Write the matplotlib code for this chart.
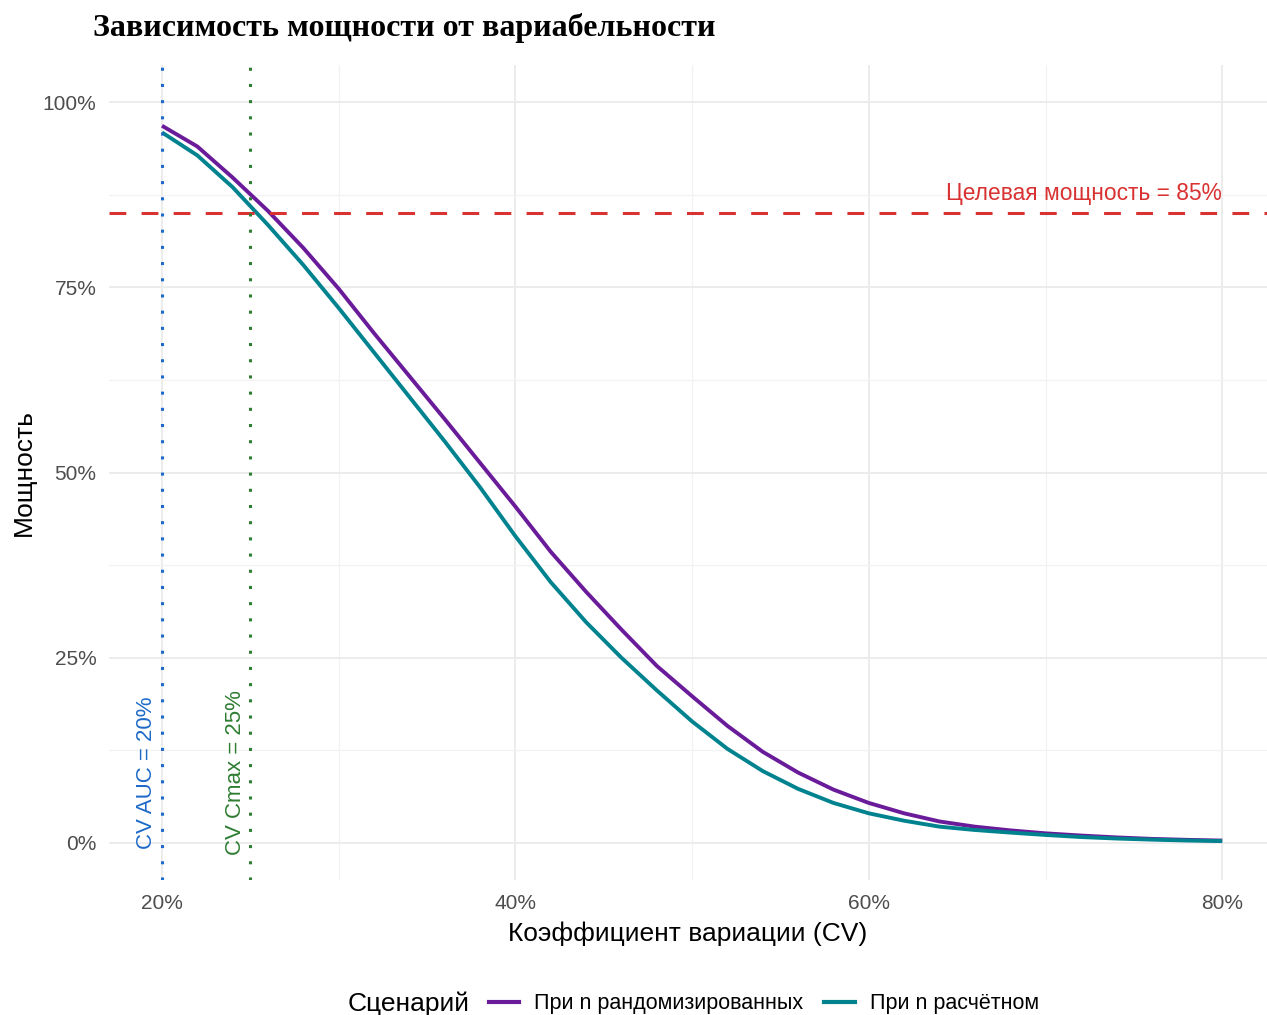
import matplotlib
matplotlib.use("Agg")
import matplotlib.pyplot as plt
from matplotlib.lines import Line2D
from matplotlib.offsetbox import HPacker

plt.rcParams["font.family"] = ["Liberation Sans", "DejaVu Sans"]

cv = [20, 22, 24, 26, 28, 30, 32, 34, 36, 38, 40, 42, 44, 46, 48, 50, 52, 54, 56, 58,
      60, 62, 64, 66, 68, 70, 72, 74, 76, 78, 80]
power_rand = [96.8, 94.0, 89.8, 85.3, 80.3, 74.8, 68.8, 63.0, 57.2, 51.3, 45.4, 39.3, 33.9, 28.8,
              23.9, 19.8, 15.8, 12.3, 9.5, 7.2, 5.4, 4.0, 2.9, 2.2, 1.7, 1.3, 1.0, 0.75, 0.55, 0.42, 0.32]
power_calc = [95.9, 92.8, 88.5, 83.4, 78.0, 72.2, 66.2, 60.2, 54.2, 48.0, 41.4, 35.2, 29.8, 25.0,
              20.6, 16.4, 12.7, 9.7, 7.3, 5.4, 4.0, 3.0, 2.2, 1.75, 1.4, 1.08, 0.8, 0.6, 0.45, 0.33, 0.25]
series_names = ["При n рандомизированных", "При n расчётном"]
target_power = 85
cv_auc = 20
cv_cmax = 25

c_rand = "#6A1B9A"
c_calc = "#00838F"

fig = plt.figure(figsize=(12.67, 10.15), dpi=100)
ax = fig.add_axes([109/1267, 1-880/1015, 1-109/1267, (880-65)/1015])

ax.set_xlim(17, 20 + (1267-162)/17.67)
ax.set_ylim(-5, 105)

for s in ax.spines.values():
    s.set_visible(False)

ax.set_xticks([20, 40, 60, 80])
ax.set_xticklabels(["20%", "40%", "60%", "80%"])
ax.set_xticks([30, 50, 70], minor=True)
ax.set_yticks([0, 25, 50, 75, 100])
ax.set_yticklabels(["0%", "25%", "50%", "75%", "100%"])
ax.set_yticks([12.5, 37.5, 62.5, 87.5], minor=True)
ax.grid(which="major", color="#EBEBEB", linewidth=1.3, zorder=0)
ax.grid(which="minor", color="#F2F2F2", linewidth=0.9, zorder=0)
ax.tick_params(which="both", length=0, labelsize=15, labelcolor="#4D4D4D")
ax.tick_params(axis="x", pad=10)
ax.tick_params(axis="y", pad=9)

ax.plot(cv, power_rand, color=c_rand, lw=2.8, zorder=3, solid_capstyle="butt")
ax.plot(cv, power_calc, color=c_calc, lw=2.8, zorder=3, solid_capstyle="butt")

ax.axhline(target_power, color="#D93232", lw=2.2, linestyle=(0, (5.5, 5)), zorder=4)
ax.axvline(cv_auc, color="#1E6AC8", lw=2.2, linestyle=(0, (1, 4.3)), zorder=4)
ax.axvline(cv_cmax, color="#2E7D32", lw=2.2, linestyle=(0, (1, 4.3)), zorder=4)

ax.text(80, target_power + 1.1, f"Целевая мощность = {target_power}%", color="#D93232",
        fontsize=16.4, ha="right", va="bottom")
ax.text(cv_auc - 0.85, 9.5, f"CV AUC = {cv_auc}%", color="#1E6AC8", fontsize=16,
        rotation=90, ha="center", va="center")
ax.text(cv_cmax - 0.85, 9.5, f"CV Cmax = {cv_cmax}%", color="#2E7D32", fontsize=16,
        rotation=90, ha="center", va="center")

ax.set_xlabel("Коэффициент вариации (CV)", fontsize=19, color="black", labelpad=6)
ax.set_ylabel("Мощность", fontsize=19, color="black", labelpad=5)

fig.text(93/1267, 1-28/1015, "Зависимость мощности от вариабельности",
         fontsize=23, fontweight="bold", family="Liberation Serif", ha="left", va="center")

handles = [Line2D([0], [0], color=c_rand, lw=3), Line2D([0], [0], color=c_calc, lw=3)]
leg = fig.legend(handles, series_names, loc="center", bbox_to_anchor=(693/1267, 1-1004/1015),
                 ncol=2, frameon=False, fontsize=15.5, title="Сценарий", title_fontsize=19,
                 handlelength=1.4, handletextpad=0.7, columnspacing=1.0, borderpad=0)
title_box = leg._legend_title_box
handle_box = leg._legend_handle_box
leg._legend_box._children = [HPacker(pad=0, sep=14, align="center",
                                     children=[title_box, handle_box])]

fig.savefig("out.png", dpi=100)
